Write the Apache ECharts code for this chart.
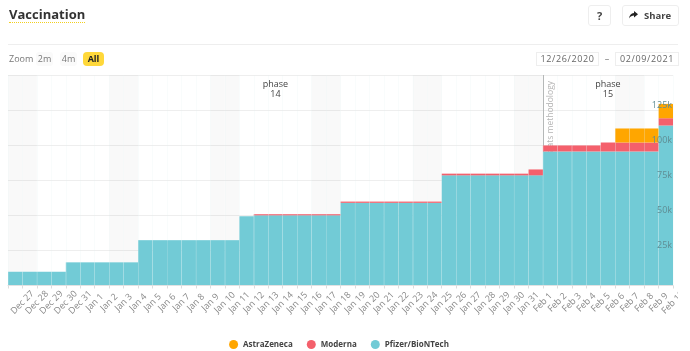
<!DOCTYPE html>
<html>
<head>
<meta charset="utf-8">
<title>Vaccination</title>
<script src="https://cdn.jsdelivr.net/npm/echarts@6/dist/echarts.min.js"></script>
<style>
  html, body { margin: 0; padding: 0; background: #fff; font-family: "Open Sans", sans-serif; }
  #page { position: relative; width: 690px; height: 351px; overflow: hidden; }
  #chart { position: absolute; left: 0; top: 0; width: 678px; height: 351px; }
  .abs { position: absolute; box-sizing: border-box; }
  .title { left: 9px; top: 6px; font-size: 13px; font-weight: 700; color: #333; line-height: 16px; border-bottom: 1px dotted #f2cf1f; }
  .btn { top: 5px; height: 21px; border: 1px solid #eee; border-radius: 3px; font-size: 9.5px; font-weight: 700; color: #444; line-height: 19px; text-align: center; }
  .rule { left: 8px; top: 44px; width: 670px; height: 1px; background: #eee; }
  .zoom { top: 52px; height: 14px; line-height: 14px; font-size: 9px; color: #777; text-align: center; }
  .date { top: 52px; height: 14px; line-height: 12px; border: 1px solid #eee; font-size: 9px; letter-spacing: .6px; color: #666; text-align: center; }
</style>
</head>
<body>
<div id="page">
  <div id="chart"></div>
  <div class="abs title">Vaccination</div>
  <div class="abs btn" style="left:588px;width:23px;font-size:11px">?</div>
  <div class="abs btn" style="left:622px;width:57px;padding-left:14px">Share
    <svg style="position:absolute;left:6px;top:5px" width="9" height="8" viewBox="0 0 9 8"><path d="M5 0l4 3.2-4 3.2V4.5C3 4.5 1.4 5.2 0 7.5.3 4.4 2 2.2 5 1.9z" fill="#222"/></svg>
  </div>
  <div class="abs rule"></div>
  <div class="abs zoom" style="left:9px;width:22px">Zoom</div>
  <div class="abs zoom" style="left:36px;width:17px;background:#fafafa;border-radius:3px">2m</div>
  <div class="abs zoom" style="left:60px;width:17px;background:#fafafa;border-radius:3px">4m</div>
  <div class="abs zoom" style="left:83px;width:21px;background:#ffd83a;border-radius:4px;color:#222;font-weight:700">All</div>
  <div class="abs date" style="left:536px;width:63px">12/26/2020</div>
  <div class="abs zoom" style="left:603px;width:8px">–</div>
  <div class="abs date" style="left:615px;width:64px">02/09/2021</div>
</div>
<script>
// one entry per day, Dec 26 to Feb 9
const days = [
  'Dec 26', 'Dec 27', 'Dec 28', 'Dec 29', 'Dec 30', 'Dec 31',
  'Jan 1', 'Jan 2', 'Jan 3', 'Jan 4', 'Jan 5', 'Jan 6', 'Jan 7', 'Jan 8', 'Jan 9', 'Jan 10',
  'Jan 11', 'Jan 12', 'Jan 13', 'Jan 14', 'Jan 15', 'Jan 16', 'Jan 17', 'Jan 18', 'Jan 19', 'Jan 20',
  'Jan 21', 'Jan 22', 'Jan 23', 'Jan 24', 'Jan 25', 'Jan 26', 'Jan 27', 'Jan 28', 'Jan 29', 'Jan 30', 'Jan 31',
  'Feb 1', 'Feb 2', 'Feb 3', 'Feb 4', 'Feb 5', 'Feb 6', 'Feb 7', 'Feb 8', 'Feb 9'
]
// tick labels sit on day boundaries, so there is one more of them
const tickLabels = [...days, 'Feb 10']
const weekendDays = [
  'Dec 26', 'Dec 27', 'Jan 2', 'Jan 3', 'Jan 9', 'Jan 10', 'Jan 16', 'Jan 17',
  'Jan 23', 'Jan 24', 'Jan 30', 'Jan 31', 'Feb 6', 'Feb 7'
]

const pfizer = [
  9800, 9800, 9800, 9800, 16500, 16500,
  16500, 16500, 16500, 32300, 32300, 32300, 32300, 32300, 32300, 32300,
  49400, 50000, 50000, 50000, 50000, 50000, 50000, 58900, 58900, 58900,
  58900, 58900, 58900, 58900, 78500, 78500, 78500, 78500, 78500, 78500, 78500,
  95500, 95500, 95500, 95500, 95500, 95500, 95500, 95500, 114000
]
const moderna = [
  0, 0, 0, 0, 0, 0,
  0, 0, 0, 0, 0, 0, 0, 0, 0, 0,
  0, 800, 800, 800, 800, 800, 800, 900, 900, 900,
  900, 900, 900, 900, 1200, 1200, 1200, 1200, 1200, 1200, 4200,
  4300, 4300, 4300, 4300, 6400, 6400, 6400, 6400, 5200
]
const astraZeneca = [
  0, 0, 0, 0, 0, 0,
  0, 0, 0, 0, 0, 0, 0, 0, 0, 0,
  0, 0, 0, 0, 0, 0, 0, 0, 0, 0,
  0, 0, 0, 0, 0, 0, 0, 0, 0, 0, 0,
  0, 0, 0, 0, 0, 10000, 10000, 10000, 10200
]

const yMax = 150000
const yInterval = 25000
const teal = '#72cbd6'
const red = '#f4606c'
const orange = '#ffa600'

const chart = echarts.init(document.getElementById('chart'))

const stackedBar = (name, data, color) => ({
  name,
  type: 'bar',
  stack: 'doses',
  xAxisIndex: 0,
  yAxisIndex: 0,
  z: 2,
  barCategoryGap: 0,
  itemStyle: { color },
  data,
})

chart.setOption({
  animation: false,
  textStyle: { fontFamily: '"Open Sans", sans-serif' },
  legend: {
    data: ['AstraZeneca', 'Moderna', 'Pfizer/BioNTech'],
    left: 'center',
    top: 335,
    icon: 'circle',
    itemWidth: 9,
    itemHeight: 9,
    itemGap: 14,
    textStyle: { fontSize: 8, fontWeight: 700, color: '#444' },
  },
  grid: { left: 8, top: 75, width: 665, height: 210.5, outerBoundsMode: 'none' },
  xAxis: [
    { type: 'category', data: days, show: false },
    {
      type: 'category',
      data: tickLabels,
      boundaryGap: false,
      position: 'bottom',
      z: 3,
      axisLine: { lineStyle: { color: '#e2e2e2' } },
      axisTick: { interval: 0, length: 3, lineStyle: { color: '#ddd' } },
      splitLine: { show: true, interval: 0, lineStyle: { color: 'rgba(225,238,240,0.2)' } },
      axisLabel: {
        interval: (index) => index > 0,
        hideOverlap: false,
        rotate: 45,
        align: 'center',
        verticalAlign: 'middle',
        margin: 17,
        fontSize: 9,
        color: '#888',
      },
    },
  ],
  yAxis: [
    {
      type: 'value',
      min: 0,
      max: yMax,
      interval: yInterval,
      axisLine: { show: false },
      axisTick: { show: false },
      axisLabel: { show: false },
      splitLine: { lineStyle: { color: '#eee' } },
    },
    {
      // labels only, they have to stay on top of the bars
      type: 'value',
      position: 'right',
      min: 0,
      max: yMax,
      interval: yInterval,
      z: 5,
      axisLine: { show: false },
      axisTick: { show: false },
      splitLine: { show: false },
      axisLabel: {
        inside: true,
        margin: 1,
        fontSize: 9,
        color: '#5f8d94',
        verticalAlign: 'bottom',
        formatter: (v) => (v === 0 || v === yMax ? '' : v / 1000 + 'k'),
      },
    },
  ],
  series: [
    {
      name: 'weekend',
      type: 'bar',
      silent: true,
      xAxisIndex: 0,
      yAxisIndex: 0,
      z: 1,
      barGap: '-100%',
      barCategoryGap: 0,
      itemStyle: { color: 'rgba(0,0,0,0.025)' },
      data: days.map((d) => (weekendDays.includes(d) ? yMax : null)),
    },
    stackedBar('Pfizer/BioNTech', pfizer, teal),
    stackedBar('Moderna', moderna, red),
    stackedBar('AstraZeneca', astraZeneca, orange),
    {
      // phases and the methodology note, placed on the boundary axis
      name: 'notes',
      type: 'line',
      xAxisIndex: 1,
      yAxisIndex: 0,
      z: 1,
      data: [],
      markArea: {
        silent: true,
        z: 4,
        itemStyle: { color: 'rgba(0,0,0,0)' },
        label: { position: 'insideTop', distance: 4, fontSize: 9, lineHeight: 10, color: '#444' },
        data: [
          [{ name: 'phase\n14', xAxis: 'Dec 26' }, { xAxis: 'Feb 1' }],
          [{ name: 'phase\n15', xAxis: 'Feb 1' }, { xAxis: 'Feb 10' }],
        ],
      },
      markLine: {
        silent: true,
        z: 1,
        symbol: 'none',
        lineStyle: { color: '#aaa', width: 1, type: 'solid' },
        label: {
          formatter: 'Change in stats methodology',
          position: 'insideEndBottom',
          distance: [6, 3],
          fontSize: 8.5,
          color: '#b5b5b5',
        },
        data: [{ xAxis: 'Feb 1' }],
      },
    },
  ],
})
</script>
</body>
</html>
